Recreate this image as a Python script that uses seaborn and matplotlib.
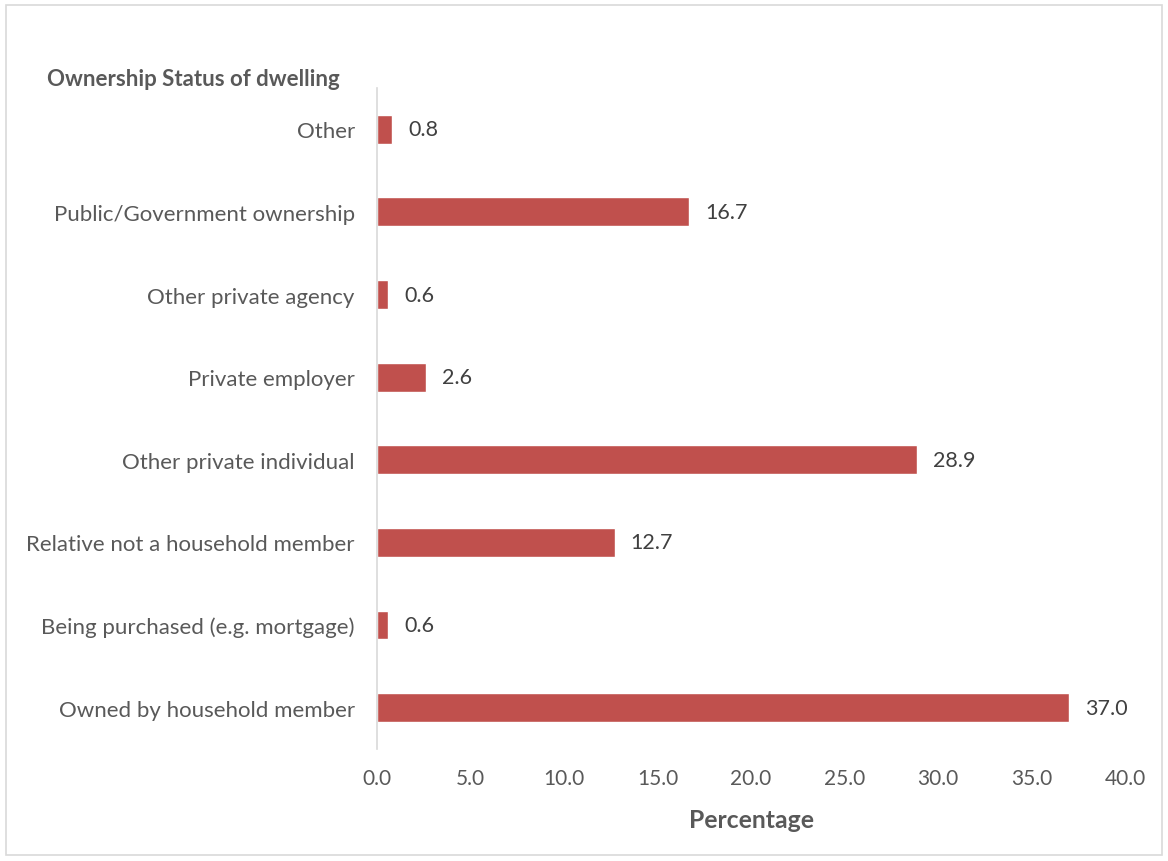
import pandas as pd
import seaborn as sns
import matplotlib.pyplot as plt
from matplotlib.patches import Rectangle

sns.set_style("white")
plt.rcParams['font.family'] = ['Lato', 'DejaVu Sans']

categories = ["Other", "Public/Government ownership", "Other private agency",
              "Private employer", "Other private individual",
              "Relative not a household member", "Being purchased (e.g. mortgage)",
              "Owned by household member"]
values = [0.8, 16.7, 0.6, 2.6, 28.9, 12.7, 0.6, 37.0]
xticks = [0, 5, 10, 15, 20, 25, 30, 35, 40]

df = pd.DataFrame({"status": categories, "pct": values})
txt = "#595959"

fig = plt.figure(figsize=(11.68, 8.62), dpi=100)
ax = fig.add_axes([0.3228, 0.130, 0.6404, 0.7668])
sns.barplot(x="pct", y="status", data=df, color="#C0504D", saturation=1,
            width=0.35, orient="h", ax=ax)

for i, v in enumerate(values):
    ax.annotate(f"{v:.1f}", (v, i), xytext=(11.5, 0), textcoords="offset points",
                va="center", ha="left", fontsize=15.5, color="#404040")

ax.set_xlim(0, 40)
ax.set_ylim(7.5, -0.5)
ax.set_xticks(xticks)
ax.set_xticklabels([f"{t:.1f}" for t in xticks], fontsize=15, color=txt)
ax.tick_params(axis="y", labelsize=16, labelcolor=txt, length=0, pad=16)
ax.tick_params(axis="x", length=0, pad=14)
ax.set_ylabel("")
ax.set_xlabel("Percentage", fontsize=17.8, fontweight="bold", color=txt, labelpad=14)
for s in ["top", "right", "bottom"]:
    ax.spines[s].set_visible(False)
ax.spines["left"].set_color("#D9D9D9")
ax.spines["left"].set_linewidth(1.2)

fig.text(47 / 1168, 1 - 86 / 862, "Ownership Status of dwelling", fontsize=16,
         fontweight="bold", color=txt, ha="left", va="baseline")

fig.patches.append(Rectangle((6 / 1168, 6 / 862), 1156 / 1168, 850 / 862,
                             transform=fig.transFigure, fill=False,
                             edgecolor="#D9D9D9", linewidth=1.2))

fig.savefig("out.png", dpi=100)
